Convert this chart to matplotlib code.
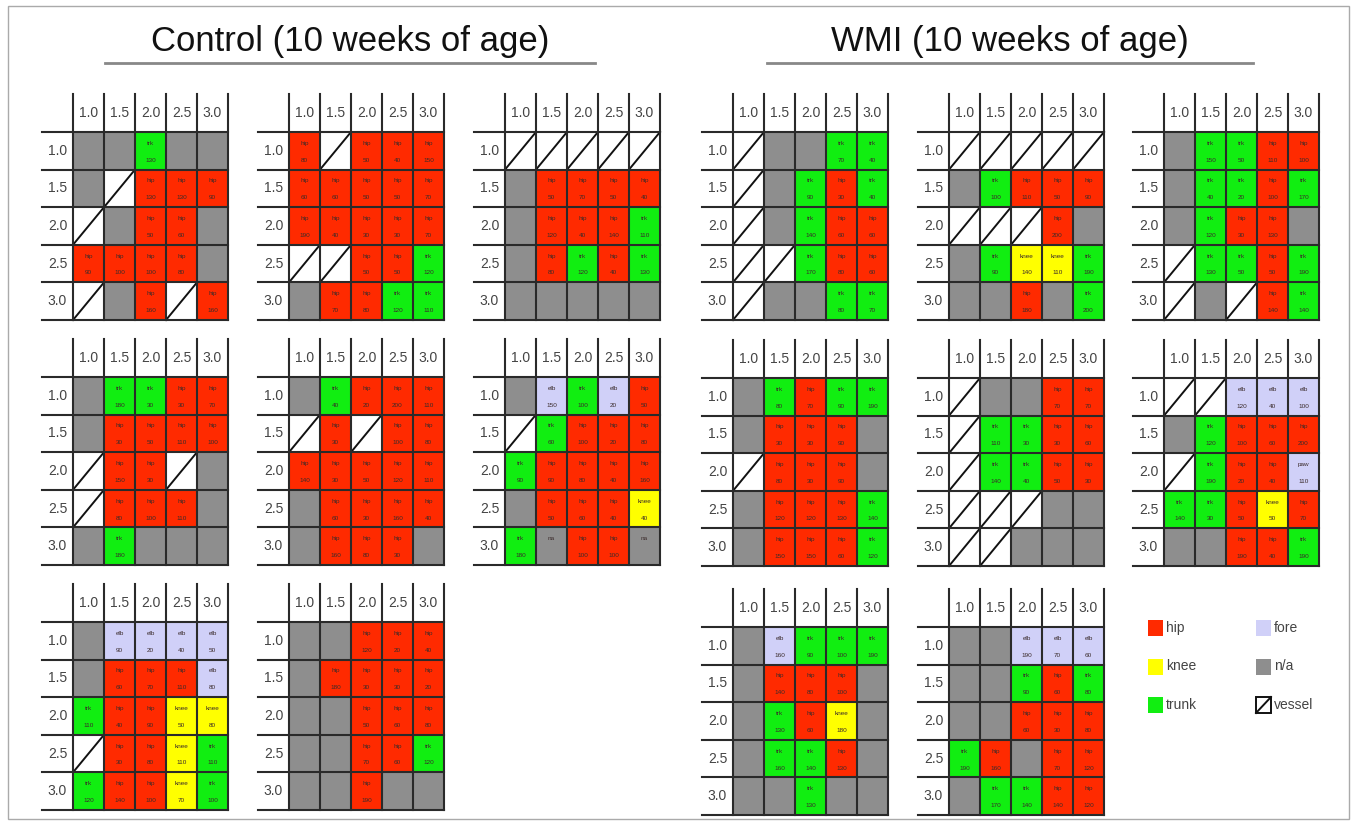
import matplotlib
matplotlib.use("Agg")
import matplotlib.pyplot as plt
from matplotlib.patches import Rectangle

plt.rcParams['font.family'] = ['Liberation Sans', 'DejaVu Sans']

# stimulation sites (rows/cols in mm); token: h=hip k=knee t=trk e=elb p=paw
# n=n/a, x=n/a with "na" text, v=vessel
sites = ["1.0", "1.5", "2.0", "2.5", "3.0"]

control_maps = [
    ["n n t130 n n", "n v h130 h130 h90", "v n h50 h60 n", "h90 h100 h100 h80 n", "v n h160 v h160"],
    ["h80 v h50 h40 h150", "h60 h60 h50 h50 h70", "h190 h40 h30 h30 h70", "v v h50 h50 t120", "n h70 h80 t120 t110"],
    ["v v v v v", "n h50 h70 h50 h40", "n h120 h40 h140 t110", "n h80 t120 h40 t130", "n n n n n"],
    ["n t180 t30 h30 h70", "n h30 h50 h110 h100", "v h150 h30 v n", "v h80 h100 h110 n", "n t180 n n n"],
    ["n t40 h20 h200 h110", "v h30 v h100 h80", "h140 h30 h50 h120 h110", "n h60 h30 h160 h40", "n h160 h80 h30 n"],
    ["n e150 t100 e20 h50", "v t60 h100 h20 h80", "t90 h90 h80 h40 h160", "n h50 h60 h40 k40", "t180 x h100 h100 x"],
    ["n e90 e20 e40 e50", "n h60 h70 h110 e80", "t110 h40 h90 k50 k80", "v h30 h80 k110 t110", "t120 h140 h100 k70 t100"],
    ["n n h120 h20 h40", "n h180 h30 h30 h20", "n n h50 h60 h80", "n n h70 h60 t120", "n n h190 n n"],
]

wmi_maps = [
    ["v n n t70 t40", "v n t90 h30 t40", "v n t140 h60 h60", "v v t170 h80 h60", "v n n t80 t70"],
    ["v v v v v", "n t100 h110 h50 h90", "v v v h200 n", "n t90 k140 k110 t190", "n n h180 n t200"],
    ["n t150 t50 h110 h100", "n t40 t20 h100 t170", "n t120 h30 h130 n", "v t130 t50 h50 t190", "v n v h140 t140"],
    ["n t80 h70 t90 t190", "n h30 h30 h90 n", "v h80 h30 h90 n", "n h120 h120 h130 t140", "n h150 h150 h60 t120"],
    ["v n n h70 h70", "v t110 t30 h30 h60", "v t140 t40 h50 h30", "v v v n n", "v v n n n"],
    ["v v e120 e40 e100", "n t120 h100 h60 h200", "v t190 h20 h40 p110", "t140 t30 h50 k50 h70", "n n h190 h40 t190"],
    ["n e160 t90 t100 t190", "n h140 h80 h100 n", "n t130 h60 k180 n", "n t160 t140 h130 n", "n n t130 n n"],
    ["n n e190 e70 e60", "n n t90 h60 t80", "n n h60 h30 h80", "t190 h160 n h70 h120", "n t170 t140 h140 h120"],
]

colors = {"h": "#ff2a00", "k": "#ffff00", "t": "#11ee11", "e": "#d0d0f8",
          "p": "#d0d0f8", "n": "#8e8e8e", "x": "#8e8e8e", "v": "white"}
names = {"h": "hip", "k": "knee", "t": "trk", "e": "elb", "p": "paw", "x": "na"}

legend_items = [("hip", "h"), ("knee", "k"), ("trunk", "t"),
                ("fore", "e"), ("n/a", "n"), ("vessel", "v")]

CW, CH, HEAD, LAB = 31, 37.6, 38, 31
ctrl_x = [73, 289, 505]
ctrl_y = [132, 377, 622]
wmi_x = [733, 949, 1164]
wmi_y = [132, 378, 627]

fig = plt.figure(figsize=(13.57, 8.25), dpi=100)
ax = fig.add_axes([0, 0, 1, 1])
ax.set_xlim(0, 1357)
ax.set_ylim(825, 0)
ax.axis("off")


def draw_map(ax, rows, x0, y0):
    lc = "#2a2a2a"
    for r, row in enumerate(rows):
        for c, tok in enumerate(row.split()):
            code, val = tok[0], tok[1:]
            cx, cy = x0 + c * CW, y0 + r * CH
            ax.add_patch(Rectangle((cx, cy), CW, CH, facecolor=colors[code], edgecolor="none"))
            if code == "v":
                ax.plot([cx, cx + CW], [cy + CH, cy], color="#111", lw=1.4)
            elif code in names:
                ax.text(cx + CW / 2, cy + CH * 0.3, names[code], fontsize=4.6,
                        ha="center", va="center", color="#3a2a2a")
                if val:
                    ax.text(cx + CW / 2, cy + CH * 0.75, val, fontsize=4.6,
                            ha="center", va="center", color="#3a2a2a")
    # header and row labels
    for i, s in enumerate(sites):
        ax.text(x0 + (i + 0.5) * CW, y0 - HEAD / 2, s, fontsize=10,
                ha="center", va="center", color="#444")
        ax.text(x0 - LAB / 2, y0 + (i + 0.5) * CH, s, fontsize=10,
                ha="center", va="center", color="#444")
    for i in range(6):
        ax.plot([x0 + i * CW] * 2, [y0 - HEAD, y0 + 5 * CH], color=lc, lw=1.5)
        ax.plot([x0 - LAB, x0 + 5 * CW], [y0 + i * CH] * 2, color=lc, lw=1.5)


for k, rows in enumerate(control_maps):
    draw_map(ax, rows, ctrl_x[k % 3], ctrl_y[k // 3])
for k, rows in enumerate(wmi_maps):
    draw_map(ax, rows, wmi_x[k % 3], wmi_y[k // 3])

# titles
ax.text(350, 42, "Control (10 weeks of age)", fontsize=25, ha="center", va="center", color="#111")
ax.plot([105, 595], [63, 63], color="#888", lw=2)
ax.text(1010, 42, "WMI (10 weeks of age)", fontsize=25, ha="center", va="center", color="#111")
ax.plot([767, 1253], [63, 63], color="#888", lw=2)

# legend
for j, (lab, code) in enumerate(legend_items):
    lx = 1148 if j < 3 else 1256
    ly = 628 + (j % 3) * 38.5
    if code == "v":
        ax.add_patch(Rectangle((lx, ly - 8), 15, 16, facecolor="white", edgecolor="#111", lw=1.4))
        ax.plot([lx, lx + 15], [ly + 8, ly - 8], color="#111", lw=1.4)
    else:
        ax.add_patch(Rectangle((lx, ly - 8), 15, 16, facecolor=colors[code], edgecolor="none"))
    ax.text(lx + 18, ly, lab, fontsize=10, ha="left", va="center", color="#444")

# outer frame
ax.add_patch(Rectangle((8, 6), 1341, 813, facecolor="none", edgecolor="#aaa", lw=1))

fig.savefig("out.png", dpi=100)
